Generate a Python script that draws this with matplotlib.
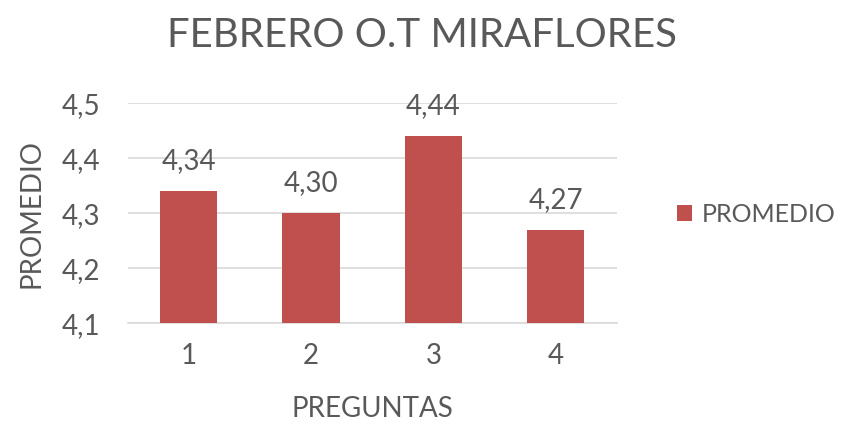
import matplotlib.pyplot as plt
from matplotlib.ticker import FuncFormatter

preguntas = ["1", "2", "3", "4"]
promedio = [4.34, 4.30, 4.44, 4.27]
etiquetas = ["4,34", "4,30", "4,44", "4,27"]

plt.rcParams['font.family'] = ['Lato', 'DejaVu Sans']
gris = '#595959'
rojo = '#C0504D'

fig = plt.figure(figsize=(8.45, 4.28), dpi=100)
ax = fig.add_axes([0.151, 0.245, 0.579, 0.514])

x = list(range(1, len(preguntas) + 1))
bars = ax.bar(x, promedio, width=0.47, color=rojo, label='PROMEDIO', zorder=3)
ax.set_xlim(0.5, 4.5)
ax.set_ylim(4.1, 4.5)
ax.set_yticks([4.1, 4.2, 4.3, 4.4, 4.5])
ax.yaxis.set_major_formatter(FuncFormatter(lambda v, p: f"{v:.1f}".replace('.', ',')))
ax.set_xticks(x)
ax.set_xticklabels(preguntas)
ax.tick_params(axis='both', length=0, labelsize=20, colors=gris)
ax.tick_params(axis='y', pad=20)
ax.tick_params(axis='x', pad=14)
ax.grid(axis='y', color='#d9d9d9', linewidth=1.2, zorder=0)
for s in ['top', 'right', 'left']:
    ax.spines[s].set_visible(False)
ax.spines['bottom'].set_color('#d9d9d9')
ax.spines['bottom'].set_linewidth(1.2)

for b, t in zip(bars, etiquetas):
    ax.annotate(t, (b.get_x() + b.get_width() / 2, b.get_height()),
                xytext=(0, 12), textcoords='offset points',
                ha='center', va='bottom', fontsize=20, color=gris)

ax.set_xlabel('PREGUNTAS', fontsize=20, color=gris, labelpad=20)
ax.set_ylabel('PROMEDIO', fontsize=20, color=gris, labelpad=12)
fig.suptitle('FEBRERO O.T MIRAFLORES', fontsize=29, color=gris, y=0.96)

fig.legend(handles=[bars], labels=['PROMEDIO'], loc='center left',
           bbox_to_anchor=(0.78, 0.5), frameon=False, fontsize=18,
           labelcolor=gris, handlelength=0.6, handleheight=0.6, handletextpad=0.4,
           borderpad=0.2)

fig.savefig('out.png', dpi=100)
